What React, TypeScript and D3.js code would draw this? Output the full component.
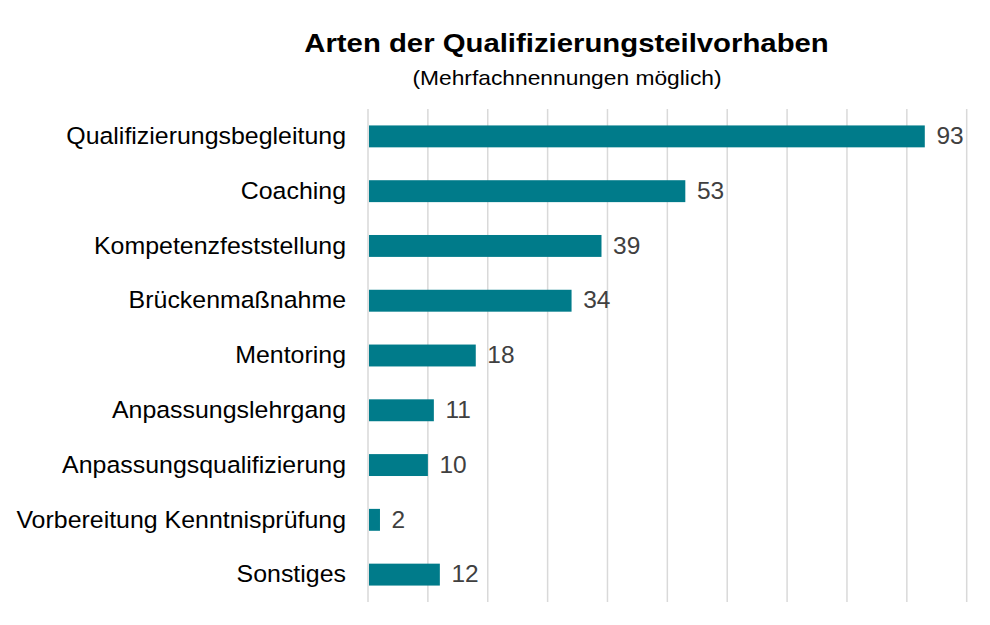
import React from "react";
import * as d3 from "d3";

const categories = [
  "Qualifizierungsbegleitung",
  "Coaching",
  "Kompetenzfeststellung",
  "Brückenmaßnahme",
  "Mentoring",
  "Anpassungslehrgang",
  "Anpassungsqualifizierung",
  "Vorbereitung Kenntnisprüfung",
  "Sonstiges",
];
const values = [93, 53, 39, 34, 18, 11, 10, 2, 12];
const gridTicks = [0, 10, 20, 30, 40, 50, 60, 70, 80, 90, 100];
const title = "Arten der Qualifizierungsteilvorhaben";
const subtitle = "(Mehrfachnennungen möglich)";

const W = 990;
const H = 625;
const FONT = "'Liberation Sans', Arial, sans-serif";

export default function App() {
  const x = d3.scaleLinear().domain([0, 100]).range([368, 966.7]);
  const y = d3
    .scaleBand<string>()
    .domain(categories)
    .range([109, 602])
    .paddingInner(0.6)
    .paddingOuter(0.3);

  return (
    <div style={{ position: "absolute", left: 0, top: 0 }}>
      <svg width={W} height={H} style={{ display: "block", background: "#fff" }}>
        <rect width={W} height={H} fill="#fff" />
        {gridTicks.map((t) => (
          <line
            key={t}
            x1={x(t)}
            x2={x(t)}
            y1={109}
            y2={602}
            stroke="#d9d9d9"
            strokeWidth={1.5}
          />
        ))}
        <text
          transform="translate(566.5,52.3) scale(1.15,1)"
          textAnchor="middle"
          fontFamily={FONT}
          fontWeight="bold"
          fontSize={25.5}
          fill="#000"
        >
          {title}
        </text>
        <text
          transform="translate(567,85) scale(1.14,1)"
          textAnchor="middle"
          fontFamily={FONT}
          fontSize={20}
          fill="#000"
        >
          {subtitle}
        </text>
        {categories.map((c, i) => {
          const yy = y(c)!;
          const bw = y.bandwidth();
          const cy = yy + bw / 2;
          return (
            <g key={c}>
              <rect
                x={x(0) + 1}
                y={yy}
                width={x(values[i]) - x(0) - 1}
                height={bw}
                fill="#007b8a"
              />
              <text
                transform={`translate(346,${cy}) scale(1.07,1)`}
                dy="0.33em"
                textAnchor="end"
                fontFamily={FONT}
                fontSize={23.3}
                fill="#000"
              >
                {c}
              </text>
              <text
                transform={`translate(${x(values[i]) + 11.6},${cy}) scale(1.05,1)`}
                dy="0.33em"
                fontFamily={FONT}
                fontSize={23.3}
                fill="#404040"
              >
                {values[i]}
              </text>
            </g>
          );
        })}
      </svg>
    </div>
  );
}
